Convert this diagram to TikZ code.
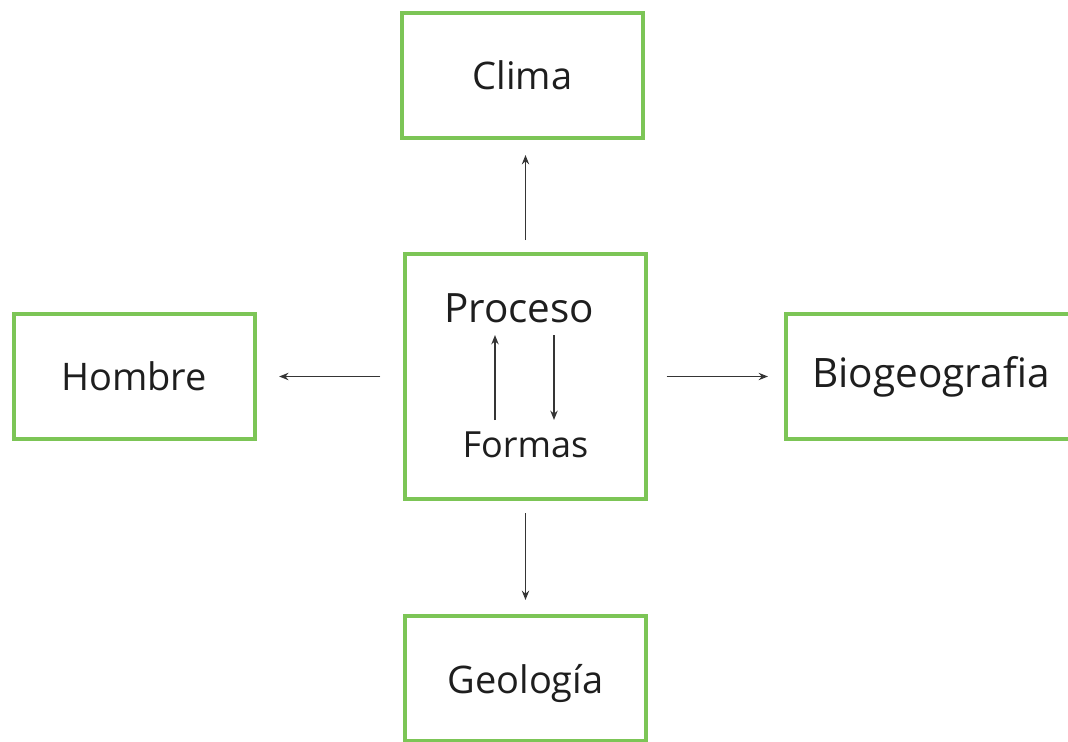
\documentclass[tikz,border=0pt]{standalone}
\usepackage{fontspec}
\setmainfont{Open Sans}
\usetikzlibrary{arrows.meta, calc}
\definecolor{boxgreen}{RGB}{124,197,86}
\definecolor{ink}{RGB}{30,30,30}

\begin{document}
\begin{tikzpicture}[x=0.75pt, y=-0.75pt,
    topic/.style={draw=boxgreen, line width=3pt, minimum width=180.75pt, minimum height=93.75pt, inner sep=0pt, text=ink, font=\fontsize{28.5}{30}\selectfont},
    word/.style={inner sep=0pt, text=ink},
    link/.style={-{Stealth[length=7pt,width=5.5pt]}, line width=1.4pt, ink!90}]

    \useasboundingbox (0,0) rectangle (1068,742);

    \node (proc) [topic, minimum height=183.75pt] at (525.5,376.5) {};
    \node (clima) [topic] at (522.5,75.5) {Clima};
    \node (hombre) [topic] at (134,376.5) {Hombre};
    \node (bio) [topic, minimum width=217.5pt, font=\fontsize{30.4}{32}\selectfont] at (931,376.5) {Biogeografia};
    \node (geo) [topic, text depth=0pt] at (525.5,678.5) {Geología};

    \node (proceso) [word, font=\fontsize{30.3}{32}\selectfont] at (519,308) {Proceso};
    \node (formas) [word, font=\fontsize{27}{29}\selectfont] at (525.5,445) {Formas};

    \draw[link] ($(proc.north)+(0,-12)$) -- ($(clima.south)+(3,15)$);
    \draw[link, shorten <=17pt, shorten >=17pt] (proc.west) -- (hombre.east);
    \draw[link, shorten <=14pt, shorten >=12pt] (proc.east) -- (bio.west);
    \draw[link, shorten <=9pt, shorten >=10.5pt] (proc.south) -- (geo.north);

    \draw[link] ($(proc.center)+(-30.5,43.5)$) -- ($(proc.center)+(-30.5,-41.5)$);
    \draw[link] ($(proc.center)+(28.5,-41.5)$) -- ($(proc.center)+(28.5,43.5)$);

\end{tikzpicture}
\end{document}
